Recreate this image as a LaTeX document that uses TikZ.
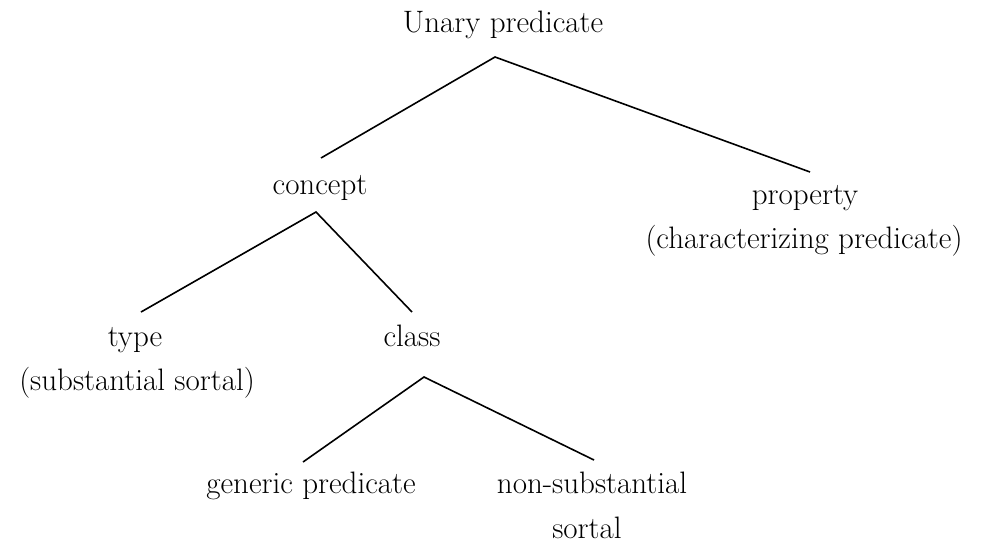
\documentclass[tikz,border=0pt]{standalone}
\begin{document}
\begin{tikzpicture}[x=1pt,y=-1pt,
  lbl/.style={anchor=base,inner sep=0pt,font=\fontsize{31}{37}\selectfont},
  edge/.style={line width=1.6pt,line join=miter}]
\useasboundingbox (0,0) rectangle (981,544);
% labels
\node[lbl] (unary)   at (503,32)  {Unary predicate};
\node[lbl] (concept) at (320,194) {concept};
\node[lbl] (property) at (805,204) {property};
\node[lbl] (charpred) at (804,248) {(characterizing predicate)};
\node[lbl] (type)    at (135,346) {type};
\node[lbl] (substsort) at (137,390) {(substantial sortal)};
\node[lbl] (class)   at (412,346) {class};
\node[lbl] (generic) at (311,493) {generic predicate};
\node[lbl] (nonsub)  at (592,493) {non-substantial};
\node[lbl] (sortal)  at (587,538) {sortal};
% branch points and line ends
\coordinate (unary-fork) at (495,57);
\coordinate (concept-top) at (321,158);
\coordinate (property-top) at (810,172);
\coordinate (concept-fork) at (316,212);
\coordinate (type-top) at (141,312);
\coordinate (class-top) at (412,312);
\coordinate (class-fork) at (424,377);
\coordinate (generic-top) at (303,462);
\coordinate (nonsub-top) at (594,460);
% branches
\draw[edge] (concept-top) -- (unary-fork) -- (property-top);
\draw[edge] (type-top) -- (concept-fork) -- (class-top);
\draw[edge] (generic-top) -- (class-fork) -- (nonsub-top);
\end{tikzpicture}
\end{document}
